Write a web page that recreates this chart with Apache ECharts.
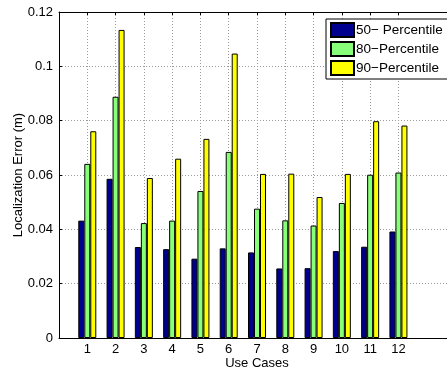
<!DOCTYPE html>
<html>
<head>
<meta charset="utf-8">
<script src="https://cdn.jsdelivr.net/npm/echarts@6/dist/echarts.min.js"></script>
<style>
  html, body { margin: 0; padding: 0; background: #fff; }
  #chart { width: 447px; height: 369px; }
</style>
</head>
<body>
<div id="chart"></div>
<script>
// Use cases along the x axis
const categories = ['1', '2', '3', '4', '5', '6', '7', '8', '9', '10', '11', '12'];

// Localization error (m) per use case
const p50 = [0.0432, 0.0586, 0.0335, 0.0327, 0.0292, 0.0330, 0.0315, 0.0256, 0.0257, 0.0320, 0.0336, 0.0392];
const p80 = [0.0641, 0.0888, 0.0423, 0.0432, 0.0541, 0.0685, 0.0476, 0.0433, 0.0414, 0.0497, 0.0601, 0.0609];
const p90 = [0.0761, 0.1134, 0.0589, 0.0660, 0.0733, 0.1047, 0.0604, 0.0605, 0.0519, 0.0604, 0.0798, 0.0782];

const seriesNames = ['50\u2212 Percentile', '80\u2212Percentile', '90\u2212Percentile'];
const yTicks = [0, 0.02, 0.04, 0.06, 0.08, 0.1, 0.12];

// x range runs from 0 to 14 with ticks only on the used cases
const axisData = [''].concat(categories, ['', '']);
const pad = arr => [null].concat(arr, [null, null]);
const isCase = idx => idx >= 1 && idx <= categories.length;

const font = 'Liberation Sans, Arial, Helvetica, sans-serif';
const gridLine = { show: true, lineStyle: { color: '#9a9a9a', type: [1, 2], width: 1 } };

const chart = echarts.init(document.getElementById('chart'), null, { renderer: 'canvas' });

const xBase = {
  type: 'category',
  data: axisData,
  boundaryGap: false,
  axisLine: { show: true, onZero: false, lineStyle: { color: '#000', width: 1 } },
  axisTick: { show: true, inside: true, length: 3, interval: isCase, lineStyle: { color: '#000' } },
  splitLine: Object.assign({ interval: isCase }, gridLine)
};

function barSeries(name, values, color) {
  return {
    name: name,
    type: 'bar',
    data: pad(values),
    barWidth: 6,
    barGap: '0%',
    itemStyle: { color: color, borderColor: '#000', borderWidth: 1 },
    xAxisIndex: 0
  };
}

chart.setOption({
  animation: false,
  backgroundColor: '#fff',
  textStyle: { fontFamily: font },
  grid: { left: 59, right: -8, top: 12, bottom: 31, containLabel: false, outerBoundsMode: 'none', show: false },
  legend: {
    orient: 'vertical',
    left: 326,
    top: 19,
    padding: [3, 30, 3, 4],
    itemWidth: 23,
    itemHeight: 14,
    itemGap: 3,
    backgroundColor: '#fff',
    borderColor: '#000',
    borderWidth: 1,
    icon: 'rect',
    textStyle: { fontFamily: font, fontSize: 13.5, lineHeight: 14, color: '#000', padding: [0, 0, 0, -3] },
    data: seriesNames
  },
  xAxis: [
    Object.assign({}, xBase, {
      position: 'bottom',
      name: 'Use Cases',
      nameLocation: 'middle',
      nameGap: 19,
      nameMoveOverlap: false,
      nameTextStyle: { fontFamily: font, fontSize: 13, color: '#000', verticalAlign: 'top' },
      axisLabel: { interval: isCase, margin: 5, fontFamily: font, fontSize: 13, color: '#000' }
    }),
    Object.assign({}, xBase, {
      position: 'top',
      axisLabel: { show: false },
      splitLine: { show: false }
    })
  ],
  yAxis: [
    {
      type: 'value',
      position: 'left',
      min: 0,
      max: 0.12,
      interval: 0.02,
      name: 'Localization Error (m)',
      nameLocation: 'middle',
      nameGap: 34,
      nameMoveOverlap: false,
      nameTextStyle: { fontFamily: font, fontSize: 13, color: '#000' },
      axisLine: { show: true, onZero: false, lineStyle: { color: '#000', width: 1 } },
      axisTick: { show: true, inside: true, length: 3, lineStyle: { color: '#000' } },
      splitLine: gridLine,
      axisLabel: {
        margin: 6,
        fontFamily: font,
        fontSize: 13,
        color: '#000',
        formatter: v => {
          const t = yTicks.find(k => Math.abs(k - v) < 1e-9);
          return t === undefined ? '' : String(t);
        }
      }
    },
    {
      type: 'value',
      position: 'right',
      min: 0,
      max: 0.12,
      interval: 0.02,
      axisLine: { show: true, onZero: false, lineStyle: { color: '#000', width: 1 } },
      axisTick: { show: true, inside: true, length: 3 },
      axisLabel: { show: false },
      splitLine: { show: false }
    }
  ],
  series: [
    barSeries(seriesNames[0], p50, '#00008f'),
    barSeries(seriesNames[1], p80, '#88ff78'),
    barSeries(seriesNames[2], p90, '#ffff00')
  ]
});
</script>
</body>
</html>
